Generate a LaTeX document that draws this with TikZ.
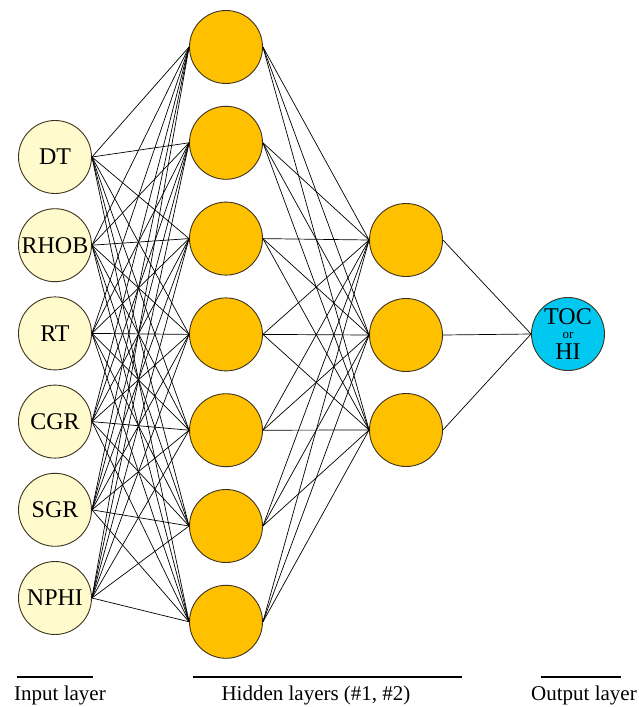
\documentclass[tikz,border=0pt]{standalone}
\usepackage{fontspec}
\setmainfont{Liberation Serif}
\definecolor{infill}{RGB}{255,251,204}
\definecolor{hidfill}{RGB}{255,192,0}
\definecolor{outfill}{RGB}{0,200,240}
\definecolor{edgegray}{RGB}{60,50,30}
\tikzset{
  neuron/.style={circle, draw=edgegray, line width=0.9pt, minimum size=73pt, inner sep=0pt},
  inneuron/.style={neuron, fill=infill, font=\fontsize{24}{26}\selectfont},
  hidneuron/.style={neuron, fill=hidfill},
  outneuron/.style={neuron, fill=outfill, align=center, font=\fontsize{24}{18}\selectfont},
  link/.style={black, line width=0.7pt},
  layerbar/.style={black, line width=2.2pt},
  layerlabel/.style={font=\fontsize{21}{24}\selectfont, anchor=base}
}
\begin{document}
\begin{tikzpicture}[x=1pt,y=-1pt]
\useasboundingbox (0,0) rectangle (638,707);
% input layer
\foreach \t [count=\i from 0] in {DT,RHOB,RT,CGR,SGR,NPHI}{
  \node[inneuron] (in\i) at (55,{157+88.2*\i}) {\t};
}
% hidden layer 1
\foreach \i in {0,...,6}{
  \node[hidneuron] (ha\i) at (226,{47+95.8*\i}) {};
}
% hidden layer 2
\foreach \i in {0,1,2}{
  \node[hidneuron] (hb\i) at (406,{240+95*\i}) {};
}
% output
\node[outneuron] (out) at (568,334) {TOC\\[-4pt]{\fontsize{13}{13}\selectfont or}\\[3pt]HI};
% connections
\foreach \i in {0,...,5}{
  \foreach \j in {0,...,6}{
    \draw[link] (in\i.east) -- (ha\j.west);
  }
}
\foreach \i in {0,...,6}{
  \foreach \j in {0,1,2}{
    \draw[link] (ha\i.east) -- (hb\j.west);
  }
}
\foreach \j in {0,1,2}{
  \draw[link] (hb\j.east) -- (out.west);
}
% layer bars and labels
\coordinate (ibl) at (17,677);
\coordinate (ibr) at (93,677);
\coordinate (hbl) at (193,677);
\coordinate (hbr) at (462,677);
\coordinate (obl) at (541,677);
\coordinate (obr) at (621,677);
\draw[layerbar] (ibl) -- (ibr);
\draw[layerbar] (hbl) -- (hbr);
\draw[layerbar] (obl) -- (obr);
\node[layerlabel] (lin) at (60,700) {Input layer};
\node[layerlabel] (lhid) at (316,700) {Hidden layers (\#1, \#2)};
\node[layerlabel] (lout) at (584,700) {Output layer};
\end{tikzpicture}
\end{document}
